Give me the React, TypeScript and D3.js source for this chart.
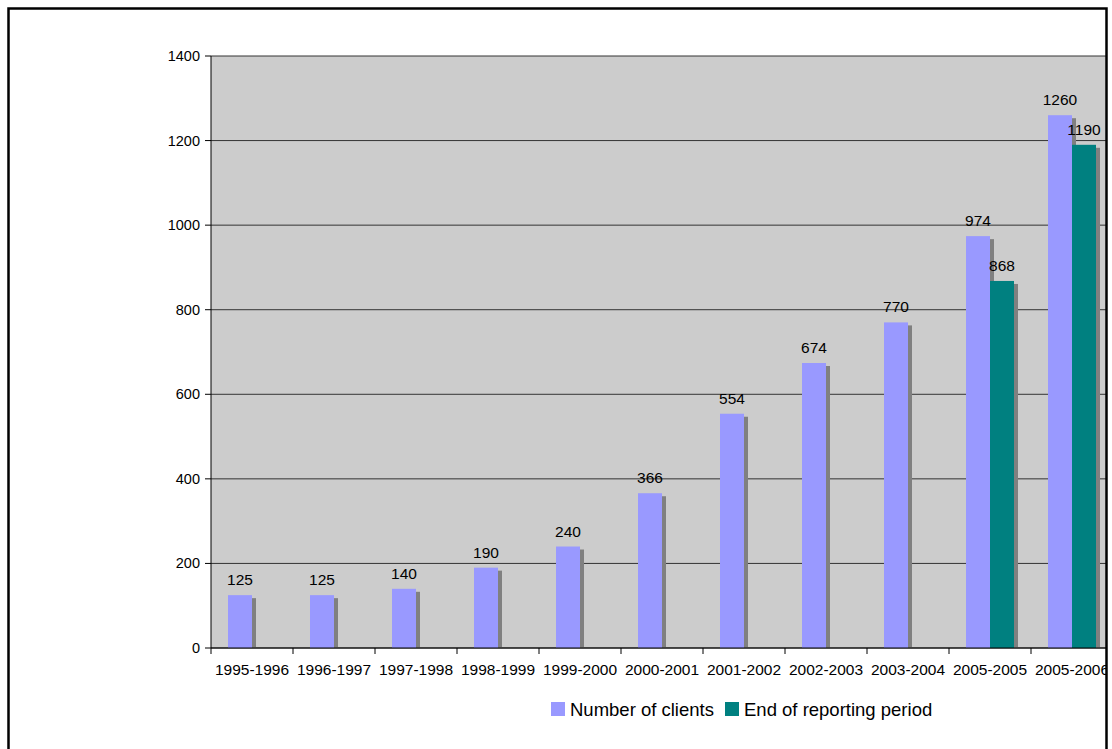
import React from "react";
import * as d3 from "d3";

const categories = [
  "1995-1996", "1996-1997", "1997-1998", "1998-1999", "1999-2000", "2000-2001",
  "2001-2002", "2002-2003", "2003-2004", "2005-2005", "2005-2006",
];
const clients: (number | null)[] = [125, 125, 140, 190, 240, 366, 554, 674, 770, 974, 1260];
const endOfPeriod: (number | null)[] = [null, null, null, null, null, null, null, null, null, 868, 1190];
const yTicks = [0, 200, 400, 600, 800, 1000, 1200, 1400];
const seriesNames = ["Number of clients", "End of reporting period"];
const colors = ["#9999FF", "#008080"];

const W = 1112;
const H = 749;
const plot = { left: 211, top: 56, right: 1113, bottom: 648 };
const font = "Arial, 'Liberation Sans', sans-serif";

export default function App() {
  const x = d3.scaleBand<string>().domain(categories).range([plot.left, plot.right]).paddingInner(0).paddingOuter(0);
  const y = d3.scaleLinear().domain([0, 1400]).range([plot.bottom, plot.top]);
  const bw = 24;
  const groupOffset = (x.bandwidth() - 2 * bw) / 2;
  const series = [clients, endOfPeriod];

  return (
    <svg width={W} height={H} style={{ position: "absolute", left: 0, top: 0, background: "#fff" }} fontFamily={font}>
      <defs>
        <clipPath id="frameClip">
          <rect x={9} y={9} width={1097} height={H} />
        </clipPath>
      </defs>
      <g clipPath="url(#frameClip)">
        <rect x={plot.left} y={plot.top} width={plot.right - plot.left} height={plot.bottom - plot.top} fill="#CCCCCC" />
        {yTicks.map((t) => (
          <line key={t} x1={plot.left} x2={plot.right} y1={y(t)} y2={y(t)} stroke="#333" strokeWidth={1} />
        ))}
        {/* drop shadows behind the bars */}
        {series.map((s, si) =>
          s.map((v, i) =>
            v == null ? null : (
              <rect key={`sh${si}-${i}`} x={(x(categories[i]) as number) + groupOffset + si * bw + 4} y={y(v) + 3}
                width={bw} height={plot.bottom - y(v) - 3} fill="#808080" />
            )
          )
        )}
        {series.map((s, si) =>
          s.map((v, i) =>
            v == null ? null : (
              <rect key={`b${si}-${i}`} x={(x(categories[i]) as number) + groupOffset + si * bw} y={y(v)}
                width={bw} height={plot.bottom - y(v)} fill={colors[si]} />
            )
          )
        )}
        {series.map((s, si) =>
          s.map((v, i) =>
            v == null ? null : (
              <text key={`l${si}-${i}`} x={(x(categories[i]) as number) + groupOffset + si * bw + bw / 2} y={y(v) - 10}
                textAnchor="middle" fontSize={15.5} fill="#000">{v}</text>
            )
          )
        )}
        {/* axes */}
        <line x1={plot.left} x2={plot.right} y1={plot.bottom} y2={plot.bottom} stroke="#000" />
        <line x1={plot.left} x2={plot.left} y1={plot.top} y2={plot.bottom} stroke="#000" />
        {yTicks.map((t) => (
          <g key={`yt${t}`}>
            <line x1={plot.left - 6} x2={plot.left} y1={y(t)} y2={y(t)} stroke="#000" />
            <text x={plot.left - 11} y={y(t) + 5} textAnchor="end" fontSize={14.5}>{t}</text>
          </g>
        ))}
        {categories.map((c) => (
          <g key={c}>
            <line x1={x(c) as number} x2={x(c) as number} y1={plot.bottom} y2={plot.bottom + 6} stroke="#000" />
            <text x={(x(c) as number) + x.bandwidth() / 2} y={plot.bottom + 27} textAnchor="middle" fontSize={15.5}>{c}</text>
          </g>
        ))}
        {/* legend */}
        {seriesNames.map((n, i) => {
          const lx = [551, 725][i];
          return (
            <g key={n}>
              <rect x={lx} y={702} width={14} height={14} fill={colors[i]} />
              <text x={lx + 19} y={716} fontSize={18.5}>{n}</text>
            </g>
          );
        })}
      </g>
      <path d={`M8.5,${H} V8.5 H1106.5 V${H}`} fill="none" stroke="#000" strokeWidth={2.5} />
    </svg>
  );
}
